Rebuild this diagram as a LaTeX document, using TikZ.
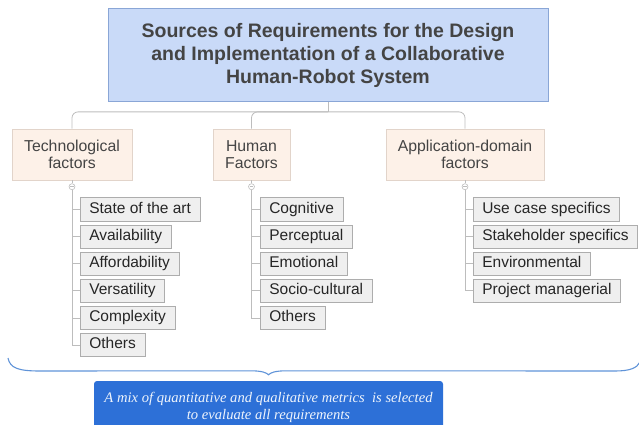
\documentclass[tikz,border=0pt]{standalone}
\usepackage{fontspec}
\setmainfont{Liberation Sans}
\newfontfamily\notefont{Liberation Serif}
\usetikzlibrary{positioning}

\definecolor{titlefill}{HTML}{C9DAF8}
\definecolor{titleline}{HTML}{8AA6D6}
\definecolor{titletext}{HTML}{444444}
\definecolor{factorfill}{HTML}{FDF1E8}
\definecolor{factorline}{HTML}{E2D4CA}
\definecolor{itemfill}{HTML}{EFEFEF}
\definecolor{itemline}{HTML}{ADADAD}
\definecolor{connline}{HTML}{BDBDBD}
\definecolor{bracecol}{HTML}{5F93D8}
\definecolor{notefill}{HTML}{2D70D7}

\tikzset{
  titlebox/.style={draw=titleline, fill=titlefill, text=titletext, line width=0.8pt,
    font=\fontsize{19.5}{23}\selectfont\bfseries, align=center,
    minimum width=440pt, minimum height=93pt, inner sep=0pt},
  factor/.style={draw=factorline, fill=factorfill, text=titletext, line width=0.8pt,
    font=\fontsize{15.8}{17.5}\selectfont, align=center,
    minimum height=51pt, inner sep=0pt},
  item/.style={draw=itemline, fill=itemfill, text=black!85, line width=0.6pt,
    font=\fontsize{15.5}{17}\selectfont, text height=11pt, text depth=3.5pt,
    minimum height=23.5pt, inner xsep=9pt, inner ysep=0pt},
  conn/.style={draw=connline, line width=0.8pt},
  fold/.style={circle, draw=connline, fill=white, line width=0.6pt,
    inner sep=0pt, minimum size=6pt},
  note/.style={fill=notefill, text=white!92!notefill, rounded corners=3pt,
    font=\notefont\itshape\fontsize{14.6}{17}\selectfont, align=center,
    minimum width=349pt, minimum height=52pt, inner sep=0pt},
}

\begin{document}
\begin{tikzpicture}[x=1pt, y=-1pt]
\useasboundingbox (0,0) rectangle (639,425);

% root and the three groups of factors
\node[titlebox] (title) at (328,55)
  {Sources of Requirements for the Design\\and Implementation of a Collaborative\\Human-Robot System};
\node[factor, minimum width=120pt] (tech) at (72,154.5) {Technological\\factors};
\node[factor, minimum width=77pt] (human) at (251.5,154.5) {Human\\Factors};
\node[factor, minimum width=158pt] (app) at (465,154.5) {Application-domain\\factors};

\coordinate (bus) at ([yshift=-10pt]title.south);
\draw[conn] (title.south) -- (bus);
\draw[conn, rounded corners=6pt] (tech.north) |- (bus) -| (app.north);
\draw[conn, rounded corners=6pt] (human.north) |- (bus);

% fold markers
\node[fold, below=3pt of tech] (techfold) {};
\node[fold, below=3pt of human] (humanfold) {};
\node[fold, below=3pt of app] (appfold) {};
\foreach \f in {techfold,humanfold,appfold} {
  \draw[connline, line width=0.5pt] ([xshift=-1.6pt]\f.center) -- ([xshift=1.6pt]\f.center);
}
\draw[conn] (tech) -- (techfold);
\draw[conn] (human) -- (humanfold);
\draw[conn] (app) -- (appfold);

% technological factors
\node[item, anchor=west] (t1) at (80,209.5) {State of the art};
\node[item, below=3pt of t1.south west, anchor=north west] (t2) {Availability};
\node[item, below=3pt of t2.south west, anchor=north west] (t3) {Affordability};
\node[item, below=3pt of t3.south west, anchor=north west] (t4) {Versatility};
\node[item, below=3pt of t4.south west, anchor=north west] (t5) {Complexity};
\node[item, below=3pt of t5.south west, anchor=north west] (t6) {Others};
\foreach \i in {1,...,6} \draw[conn] (techfold.south) |- (t\i.west);

% human factors
\node[item, anchor=west] (h1) at (260,209.5) {Cognitive};
\node[item, below=3pt of h1.south west, anchor=north west] (h2) {Perceptual};
\node[item, below=3pt of h2.south west, anchor=north west] (h3) {Emotional};
\node[item, below=3pt of h3.south west, anchor=north west] (h4) {Socio-cultural};
\node[item, below=3pt of h4.south west, anchor=north west] (h5) {Others};
\foreach \i in {1,...,5} \draw[conn] (humanfold.south) |- (h\i.west);

% application-domain factors
\node[item, anchor=west] (a1) at (473,209.5) {Use case specifics};
\node[item, below=3pt of a1.south west, anchor=north west] (a2) {Stakeholder specifics};
\node[item, below=3pt of a2.south west, anchor=north west] (a3) {Environmental};
\node[item, below=3pt of a3.south west, anchor=north west] (a4) {Project managerial};
\foreach \i in {1,...,4} \draw[conn] (appfold.south) |- (a\i.west);

% brace and summary
\node[note] (note) at (268.5,407)
  {A mix of quantitative and qualitative metrics\ \ is selected\\to evaluate all requirements};
\coordinate (tip) at ([yshift=6pt]note.north);
\draw[bracecol, line width=1.1pt]
  (8,358) .. controls (10,368) and (18,371) .. (40,371)
  -- ([xshift=-18pt, yshift=4pt]tip)
  .. controls ([xshift=-6pt, yshift=4pt]tip) and ([xshift=-2pt, yshift=2pt]tip) .. (tip)
  .. controls ([xshift=2pt, yshift=2pt]tip) and ([xshift=6pt, yshift=4pt]tip) .. ([xshift=18pt, yshift=4pt]tip)
  -- (615,371) .. controls (630,371) and (637,368) .. (640,362);
\end{tikzpicture}
\end{document}
